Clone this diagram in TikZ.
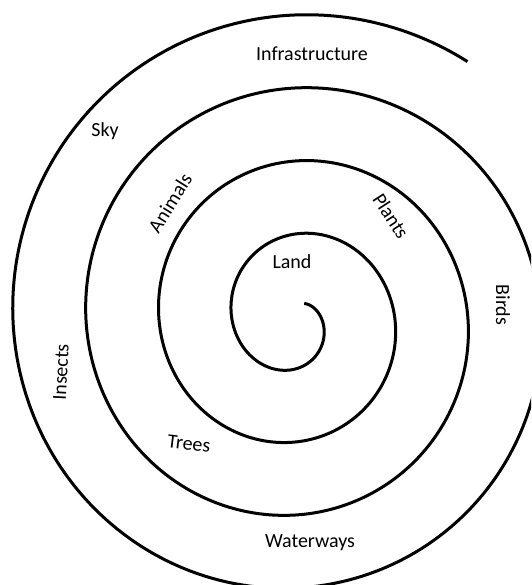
\documentclass[tikz,border=0pt]{standalone}
\usepackage{fontspec}
\setmainfont{Carlito}
\begin{document}
\begin{tikzpicture}[x=1pt,y=-1pt,
  spiralline/.style={line width=3pt, black},
  lbl/.style={inner sep=0pt, font=\fontsize{20}{24}\selectfont, text=black}]
\useasboundingbox (0,0) rectangle (531,585);
\clip (0,0) rectangle (531,585);
\draw[spiralline] plot[domain=-0.96:24.16, samples=600, variable=\t, smooth]
  ({295.25 + (26.75+11.62*\t)*cos(\t r)}, {319.75 + (31+11.62*\t)*sin(\t r)});
\node[lbl, anchor=base] (infra) at (312,61) {Infrastructure};
\node[lbl, anchor=base] (sky) at (105,137) {Sky};
\node[lbl, anchor=base] (land) at (292,268) {Land};
\node[lbl, anchor=base] (water) at (310,547) {Waterways};
\node[lbl, rotate=-7] (trees) at (189,444) {Trees};
\node[lbl, rotate=58] (animals) at (170,203) {Animals};
\node[lbl, rotate=-57] (plants) at (391,216) {Plants};
\node[lbl, rotate=-90] (birds) at (503,305) {Birds};
\node[lbl, rotate=87] (insects) at (61,372) {Insects};
\end{tikzpicture}
\end{document}
